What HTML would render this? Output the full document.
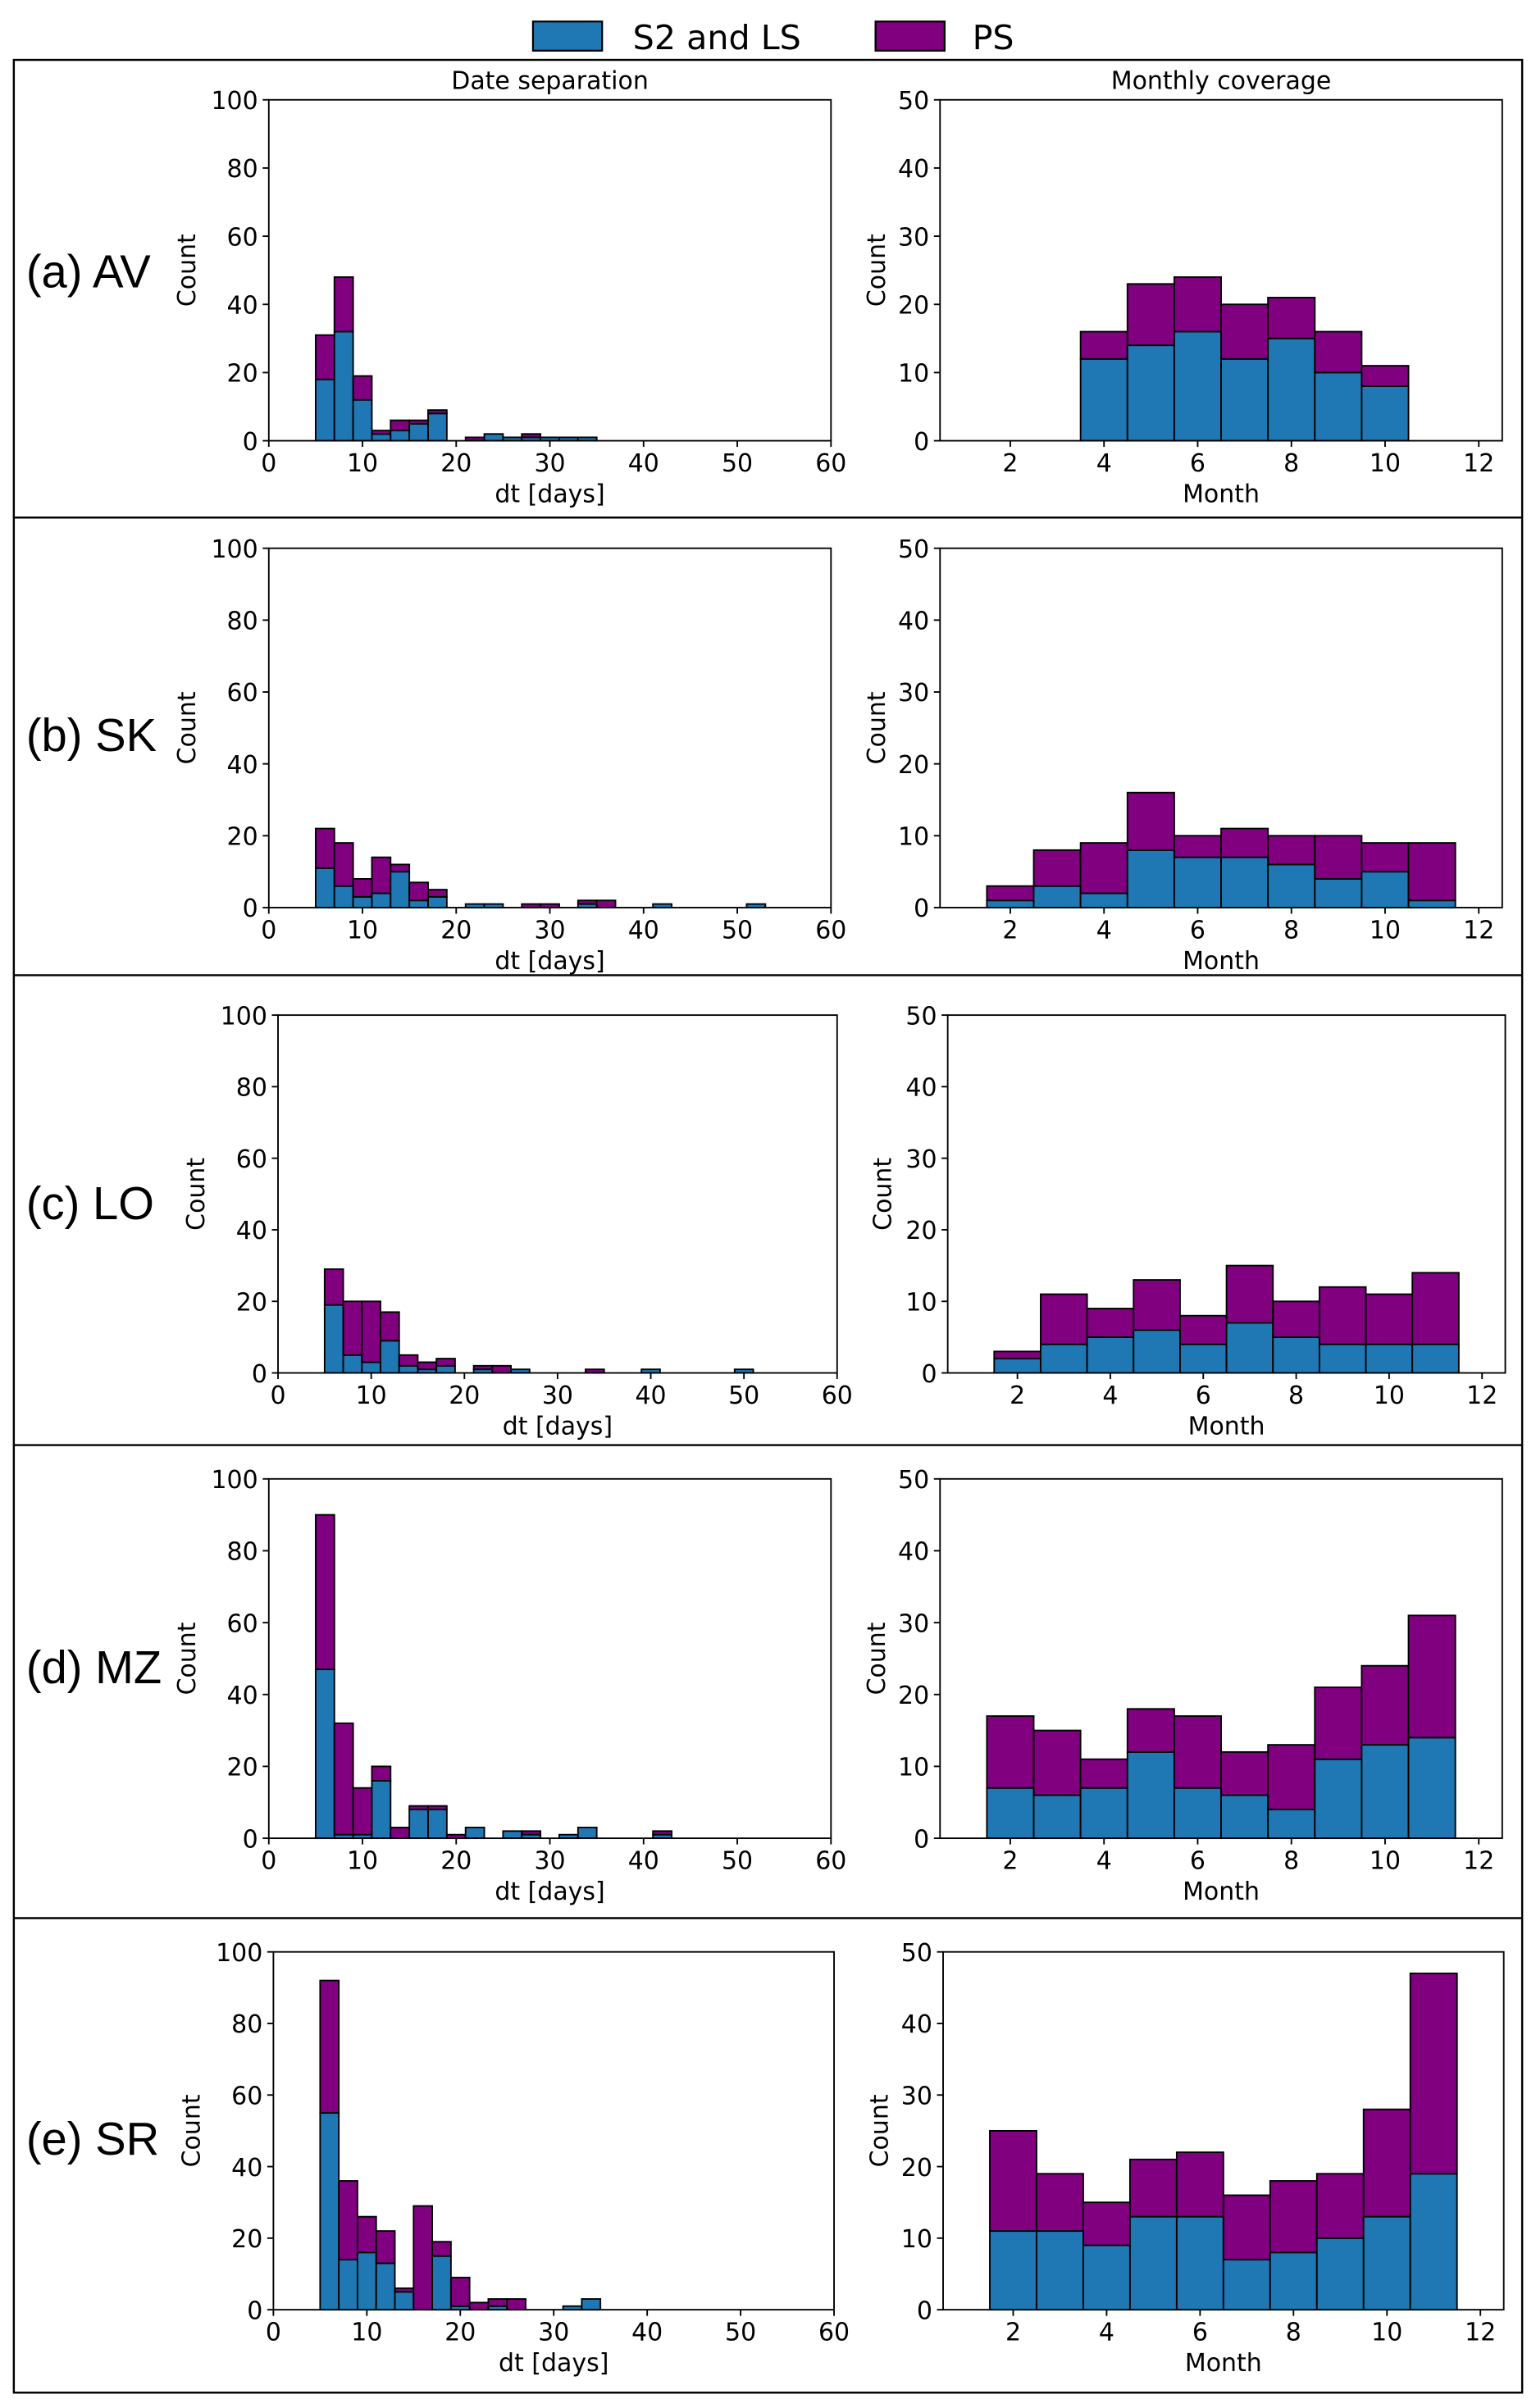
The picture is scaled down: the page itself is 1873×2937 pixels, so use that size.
<!DOCTYPE html>
<html><head><meta charset="utf-8"><style>
html,body{margin:0;padding:0;background:#fff;}
svg{display:block;}
text{font-family:"DejaVu Sans","Liberation Sans",sans-serif;fill:#000;}
.rl{font-family:"Liberation Sans",sans-serif;}
</style></head><body>
<svg id="fig" width="1873" height="2937" viewBox="0 0 1000 1568" preserveAspectRatio="none" xmlns="http://www.w3.org/2000/svg">
<g>
<rect x="347" y="14" width="45" height="19" fill="#1f77b4" stroke="#000" stroke-width="1.2"/>
<text x="412" y="32" font-size="22">S2 and LS</text>
<rect x="570" y="14" width="45" height="19" fill="#800080" stroke="#000" stroke-width="1.2"/>
<text x="633" y="32" font-size="22">PS</text>
</g>
<rect x="9" y="39" width="982" height="1519" fill="none" stroke="#000" stroke-width="1.3"/>
<g id="plots"></g>
</svg>
<script>
// dt histograms: bins of width 2 starting at 5 days
const dtStart = 5, dtWidth = 2;
const avDtTotal = [31,48,19,3,6,6,9,0,1,2,1,2,1,1,1];
const avDtS2 =    [18,32,12,2,3,5,8,0,0,2,1,1,1,1,1];
const skDtTotal = [22,18,8,14,12,7,5,0,1,1,0,1,1,0,2,2,0,0,1,0,0,0,0,1];
const skDtS2 =    [11,6,3,4,10,2,3,0,1,1,0,0,0,0,1,0,0,0,1,0,0,0,0,1];
const loDtTotal = [29,20,20,17,5,3,4,0,2,2,1,0,0,0,1,0,0,1,0,0,0,0,1];
const loDtS2 =    [19,5,3,9,2,1,2,0,1,0,1,0,0,0,0,0,0,1,0,0,0,0,1];
const mzDtTotal = [90,32,14,20,3,9,9,1,3,0,2,2,0,1,3,0,0,0,2];
const mzDtS2 =    [47,1,1,16,0,8,8,0,3,0,2,1,0,1,3,0,0,0,1];
const srDtTotal = [92,36,26,22,6,29,19,9,2,3,3,0,0,1,3];
const srDtS2 =    [55,14,16,13,5,0,15,1,0,1,0,0,0,1,3];
// monthly coverage: months 1..11
const months = [1,2,3,4,5,6,7,8,9,10,11];
const avMoTotal = [0,0,0,16,23,24,20,21,16,11,0];
const avMoS2 =    [0,0,0,12,14,16,12,15,10,8,0];
const skMoTotal = [0,3,8,9,16,10,11,10,10,9,9];
const skMoS2 =    [0,1,3,2,8,7,7,6,4,5,1];
const loMoTotal = [0,3,11,9,13,8,15,10,12,11,14];
const loMoS2 =    [0,2,4,5,6,4,7,5,4,4,4];
const mzMoTotal = [0,17,15,11,18,17,12,13,21,24,31];
const mzMoS2 =    [0,7,6,7,12,7,6,4,11,13,14];
const srMoTotal = [0,25,19,15,21,22,16,18,19,28,47];
const srMoS2 =    [0,11,11,9,13,13,7,8,10,13,19];
const dtTicks = [0,10,20,30,40,50,60];
const dtYTicks = [0,20,40,60,80,100];
const moTicks = [2,4,6,8,10,12];
const moYTicks = [0,10,20,30,40,50];
const rowLabels = ["(a) AV","(b) SK","(c) LO","(d) MZ","(e) SR"];

const rows = [
 {key:"av", L:[175,541], R:[612,978], y:[65,287], dt:[avDtTotal,avDtS2], mo:[avMoTotal,avMoS2], lab:176, cl:127, cr:576},
 {key:"sk", L:[175,541], R:[612,978], y:[357,591], dt:[skDtTotal,skDtS2], mo:[skMoTotal,skMoS2], lab:478, cl:127, cr:576},
 {key:"lo", L:[181,545], R:[617,980], y:[661,894], dt:[loDtTotal,loDtS2], mo:[loMoTotal,loMoS2], lab:783, cl:133, cr:580},
 {key:"mz", L:[175,541], R:[612,978], y:[963,1197], dt:[mzDtTotal,mzDtS2], mo:[mzMoTotal,mzMoS2], lab:1085, cl:127, cr:576},
 {key:"sr", L:[178,543], R:[614,979], y:[1271,1504], dt:[srDtTotal,srDtS2], mo:[srMoTotal,srMoS2], lab:1392, cl:130, cr:578}
];
const sepY = [337,635,941,1249];
const NS = "http://www.w3.org/2000/svg";
const root = document.getElementById("plots");
function mk(tag, attrs, parent, txt){
  const e = document.createElementNS(NS, tag);
  for (const k in attrs) e.setAttribute(k, attrs[k]);
  if (txt !== undefined) e.textContent = txt;
  parent.appendChild(e);
  return e;
}
sepY.forEach(function(y){
  const l = mk("line",{x1:9,x2:991,y1:y,y2:y,stroke:"#000","stroke-width":1.3},root);
  
  
});

function panel(g, name, xr, yr, xlim, ylim, xticks, yticks, starts, width, total, s2, xlabel, title, countX){
  const sx = v => xr[0] + (v - xlim[0]) / (xlim[1] - xlim[0]) * (xr[1] - xr[0]);
  const sy = v => yr[1] - (v - ylim[0]) / (ylim[1] - ylim[0]) * (yr[1] - yr[0]);
  const pg = mk("g",{},g);
  
  
  for (let i = 0; i < total.length; i++){
    const x0 = sx(starts(i)), x1 = sx(starts(i) + width);
    if (total[i] <= 0) continue;
    const b = mk("rect",{x:x0,y:sy(s2[i]),width:x1-x0,height:sy(0)-sy(s2[i]),fill:"#1f77b4",stroke:"#000","stroke-width":1},pg);
    
    
    const p = mk("rect",{x:x0,y:sy(total[i]),width:x1-x0,height:sy(s2[i])-sy(total[i]),fill:"#800080",stroke:"#000","stroke-width":1},pg);
    
    
  }
  const fr = mk("rect",{x:xr[0],y:yr[0],width:xr[1]-xr[0],height:yr[1]-yr[0],fill:"none",stroke:"#000","stroke-width":1},pg);
  
  
  xticks.forEach(function(t){
    const x = sx(t);
    mk("line",{x1:x,x2:x,y1:yr[1],y2:yr[1]+4,stroke:"#000","stroke-width":1},pg);
    const tl = mk("text",{x:x,y:yr[1]+20,"font-size":16,"text-anchor":"middle"},pg,String(t));
    
    
  });
  yticks.forEach(function(t){
    const y = sy(t);
    mk("line",{x1:xr[0]-4,x2:xr[0],y1:y,y2:y,stroke:"#000","stroke-width":1},pg);
    const tl = mk("text",{x:xr[0]-7,y:y+6,"font-size":16,"text-anchor":"end"},pg,String(t));
    
    
  });
  const xl = mk("text",{x:(xr[0]+xr[1])/2,y:yr[1]+40,"font-size":16,"text-anchor":"middle"},pg,xlabel);
  
  
  const cy = (yr[0]+yr[1])/2;
  const yl = mk("text",{x:countX,y:cy,"font-size":16,"text-anchor":"middle",transform:"rotate(-90 "+countX+" "+cy+")"},pg,"Count");
  
  
  if (title){
    const tt = mk("text",{x:(xr[0]+xr[1])/2,y:yr[0]-7,"font-size":16,"text-anchor":"middle"},pg,title);
    
    
  }
}

rows.forEach(function(r, idx){
  const g = mk("g",{},root);
  
  
  const lb = mk("text",{x:17,y:r.lab+11,"font-size":30,"class":"rl"},g,rowLabels[idx]);
  
  
  panel(g, r.key + '-date-separation', r.L, r.y, [0,60], [0,100], dtTicks, dtYTicks,
        i => dtStart + i * dtWidth, dtWidth, r.dt[0], r.dt[1], "dt [days]", idx===0 ? "Date separation" : null, r.cl);
  panel(g, r.key + '-monthly-coverage', r.R, r.y, [0.5,12.5], [0,50], moTicks, moYTicks,
        i => months[i] - 0.5, 1, r.mo[0], r.mo[1], "Month", idx===0 ? "Monthly coverage" : null, r.cr);
});
</script>
</body></html>
